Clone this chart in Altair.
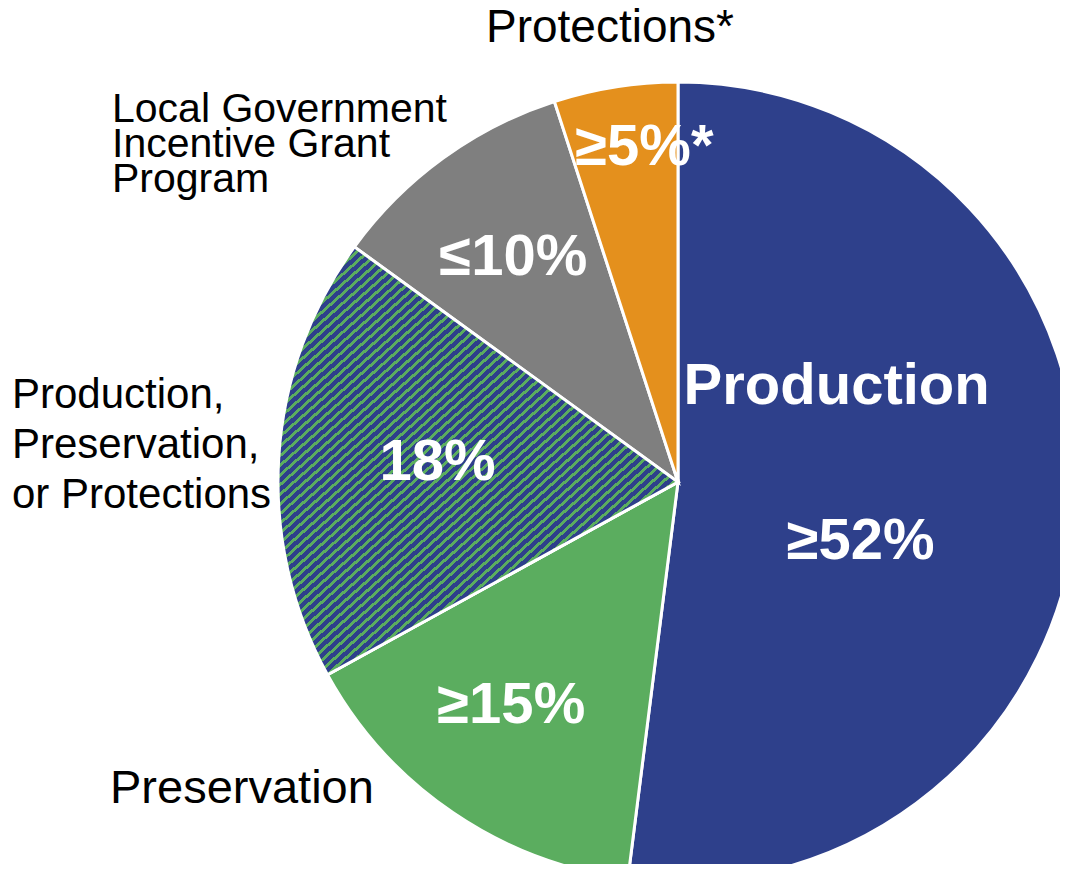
import altair as alt
import pandas as pd

# ---- data ----
categories = [
    "Production",
    "Preservation",
    "Production, Preservation, or Protections",
    "Local Government Incentive Grant Program",
    "Protections",
]
shares = [52, 15, 18, 10, 5]
pct_labels = ["≥52%", "≥15%", "18%", "≤10%", "≥5%*"]
name_labels = [
    "Production",
    "Preservation",
    "Production,\nPreservation,\nor Protections",
    "Local Government\nIncentive Grant\nProgram",
    "Protections*",
]

# ---- style ----
BLUE = "#2E408B"
GREEN = "#5BAD5F"
GRAY = "#7F7F7F"
ORANGE = "#E4901D"
slice_colors = [BLUE, GREEN, BLUE, GRAY, ORANGE]
FONT = "Liberation Sans"

CX, CY, R = 670, 474, 400
W, H = 1052, 856

df = pd.DataFrame({
    "idx": list(range(len(categories))),
    "cat": categories,
    "share": shares,
    "pct": pct_labels,
    "name": name_labels,
})

theta_scale = alt.Scale(domain=[0, 100])

base = alt.Chart(df).transform_window(
    cum="sum(share)", sort=[alt.SortField("idx")], frame=[None, 0]
).transform_calculate(
    start="datum.cum - datum.share",
    mid="datum.cum - datum.share / 2",
)

pie = base.mark_arc(radius=R, x=CX, y=CY, stroke="white", strokeWidth=3).encode(
    theta=alt.Theta("start:Q", scale=theta_scale),
    theta2="cum:Q",
    color=alt.Color("cat:N", scale=alt.Scale(domain=categories, range=slice_colors), legend=None),
)

# striped (hatched) fill for the mixed slice
n_periods = 90
p = 1.0 / n_periods
green_frac = 0.4
stops = []
for k in range(n_periods):
    a = k * p
    stops += [
        {"offset": round(a, 6), "color": BLUE},
        {"offset": round(a + (1 - green_frac) * p, 6), "color": BLUE},
        {"offset": round(a + (1 - green_frac) * p, 6), "color": GREEN},
        {"offset": round(min(a + p, 1.0), 6), "color": GREEN},
    ]
hatch_fill = {"gradient": "linear", "x1": 0, "y1": 0, "x2": 1, "y2": 1.2, "stops": stops}

hatch = base.transform_filter("datum.idx == 2").mark_arc(
    radius=R, x=CX, y=CY, stroke="white", strokeWidth=3, fill=hatch_fill
).encode(
    theta=alt.Theta("start:Q", scale=theta_scale),
    theta2="cum:Q",
)

# percentage labels: (radius, dx, dy)
pct_pos = {0: (183, 0, 66), 1: (270, -15, 18), 2: (240, -1, 13), 3: (270, -6, 11), 4: (330, 18, 9)}
layers = [pie, hatch]
for i, (rad, dx, dy) in pct_pos.items():
    layers.append(
        base.transform_filter(f"datum.idx == {i}").mark_text(
            radius=rad, x=CX, y=CY, dx=dx, dy=dy, font=FONT, fontSize=58,
            fontWeight="bold", color="white", align="center", baseline="alphabetic",
        ).encode(theta=alt.Theta("mid:Q", scale=theta_scale), text="pct:N")
    )

# inner category label for Production
layers.append(
    base.transform_filter("datum.idx == 0").mark_text(
        radius=183, x=CX, y=CY, dx=-24, dy=-89, font=FONT, fontSize=58,
        fontWeight="bold", color="white", align="center", baseline="alphabetic",
    ).encode(theta=alt.Theta("mid:Q", scale=theta_scale), text="name:N")
)

# outer category labels: x, y, align, size, lineHeight
name_pos = {
    1: (102, 795, "left", 47, 47),
    2: (4, 400, "left", 42, 50),
    3: (104, 114, "left", 41, 35),
    4: (602, 34, "center", 46, 46),
}
for i, (x, y, al, fs, lh) in name_pos.items():
    layers.append(
        base.transform_filter(f"datum.idx == {i}").mark_text(
            x=x, y=y, align=al, baseline="alphabetic", font=FONT, fontSize=fs,
            lineHeight=lh, lineBreak="\n", color="black",
        ).encode(text="name:N")
    )

chart = alt.layer(*layers).properties(
    width=W, height=H, padding=0, autosize=alt.AutoSizeParams(type="none"),
    background="white",
).configure_view(stroke=None)

chart.save("out.html", embed_options={"renderer": "svg", "actions": False})
